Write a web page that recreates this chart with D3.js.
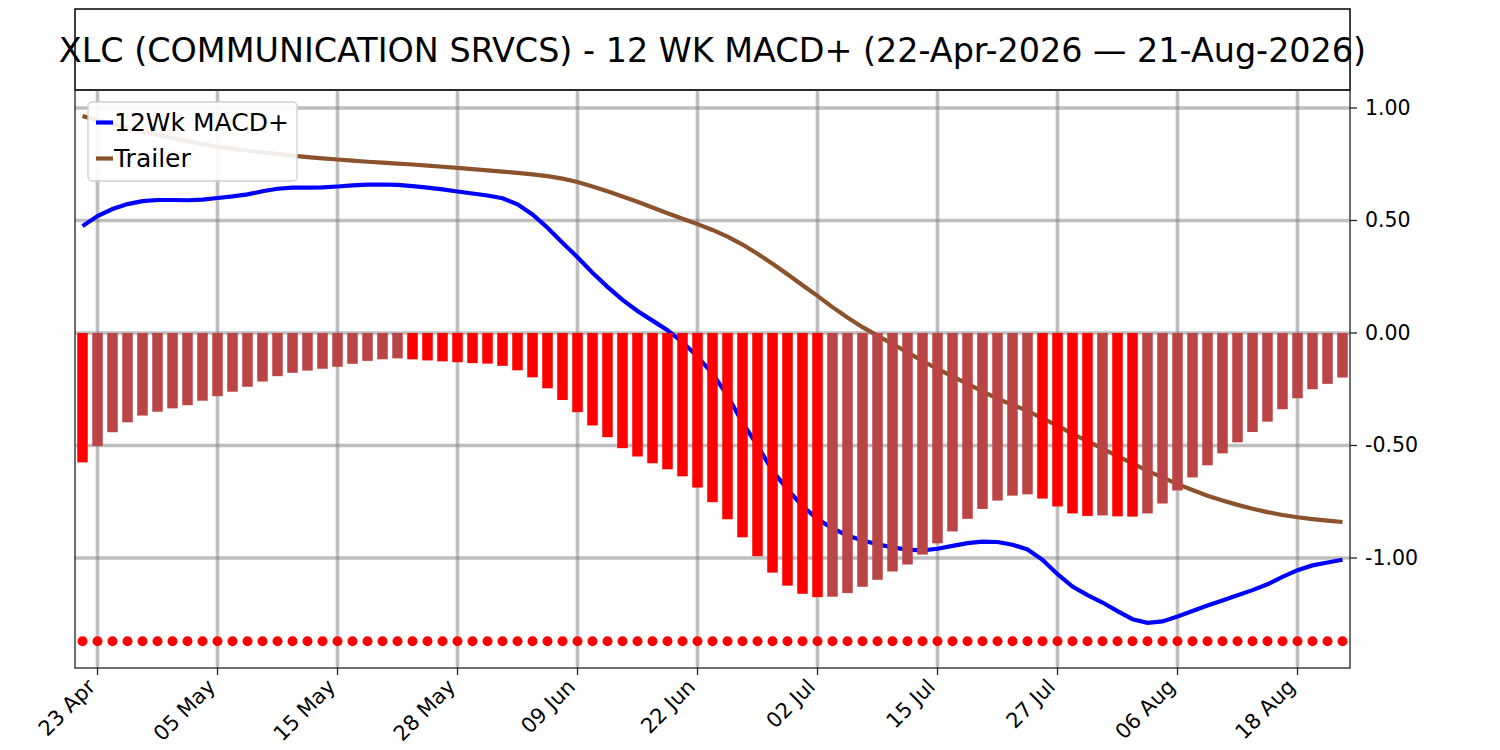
<!DOCTYPE html>
<html lang="en">
<head>
    <meta charset="UTF-8">
    <title>XLC 12 WK MACD+</title>
    <script src="https://d3js.org/d3.v7.min.js"></script>
    <style>
        body { margin: 0; background: #fff; }
        svg { font-family: "DejaVu Sans", sans-serif; }
    </style>
</head>
<body>
    <script>
        // Data (one value per trading day, 22-Apr-2026 .. 21-Aug-2026)
        const macd = [
            0.475, 0.520, 0.551, 0.573, 0.586, 0.591, 0.591, 0.590, 0.593, 0.600,
            0.607, 0.616, 0.630, 0.641, 0.646, 0.646, 0.647, 0.651, 0.656, 0.659,
            0.660, 0.658, 0.653, 0.646, 0.638, 0.629, 0.620, 0.611, 0.599, 0.572,
            0.527, 0.468, 0.401, 0.337, 0.268, 0.205, 0.147, 0.098, 0.055, 0.012,
            -0.040, -0.105, -0.180, -0.278, -0.399, -0.500, -0.613, -0.695, -0.769, -0.827,
            -0.868, -0.900, -0.922, -0.939, -0.953, -0.963, -0.966, -0.959, -0.946, -0.934,
            -0.927, -0.929, -0.941, -0.962, -1.008, -1.072, -1.127, -1.165, -1.198, -1.236,
            -1.272, -1.288, -1.282, -1.260, -1.236, -1.211, -1.189, -1.166, -1.143, -1.117,
            -1.084, -1.054, -1.033, -1.020, -1.008
        ];
        const trailer = [
            0.964, 0.945, 0.928, 0.912, 0.896, 0.881, 0.866, 0.852, 0.840, 0.828,
            0.819, 0.810, 0.803, 0.796, 0.788, 0.782, 0.776, 0.771, 0.766, 0.761,
            0.757, 0.753, 0.749, 0.744, 0.739, 0.734, 0.728, 0.723, 0.717, 0.712,
            0.705, 0.697, 0.686, 0.671, 0.651, 0.630, 0.607, 0.583, 0.558, 0.532,
            0.508, 0.484, 0.458, 0.428, 0.393, 0.352, 0.308, 0.261, 0.212, 0.165,
            0.115, 0.069, 0.026, -0.012, -0.049, -0.086, -0.124, -0.160, -0.193, -0.226,
            -0.259, -0.292, -0.320, -0.346, -0.379, -0.412, -0.448, -0.481, -0.514, -0.547,
            -0.580, -0.613, -0.642, -0.672, -0.698, -0.723, -0.745, -0.764, -0.781, -0.796,
            -0.809, -0.819, -0.827, -0.834, -0.840
        ];
        const hist = [
            -0.575, -0.502, -0.441, -0.397, -0.367, -0.350, -0.335, -0.321, -0.301, -0.281,
            -0.261, -0.239, -0.216, -0.192, -0.177, -0.167, -0.159, -0.150, -0.137, -0.124,
            -0.117, -0.113, -0.117, -0.122, -0.126, -0.130, -0.134, -0.136, -0.146, -0.166,
            -0.197, -0.246, -0.298, -0.352, -0.411, -0.463, -0.512, -0.549, -0.579, -0.606,
            -0.637, -0.687, -0.752, -0.828, -0.908, -0.992, -1.065, -1.123, -1.159, -1.174,
            -1.172, -1.156, -1.128, -1.097, -1.060, -1.029, -0.985, -0.935, -0.882, -0.826,
            -0.782, -0.745, -0.723, -0.717, -0.736, -0.771, -0.802, -0.813, -0.811, -0.815,
            -0.816, -0.802, -0.758, -0.700, -0.642, -0.588, -0.535, -0.486, -0.440, -0.394,
            -0.339, -0.290, -0.250, -0.226, -0.198
        ];
        const dotLevel = -1.37;
        const tickIdx = [1, 9, 17, 25, 33, 41, 49, 57, 65, 73, 81];
        const tickLabels = ["23 Apr", "05 May", "15 May", "28 May", "09 Jun", "22 Jun",
                            "02 Jul", "15 Jul", "27 Jul", "06 Aug", "18 Aug"];
        const yTicks = [1.0, 0.5, 0.0, -0.5, -1.0];
        const title = "XLC (COMMUNICATION SRVCS) - 12 WK MACD+ (22-Apr-2026 \u2014 21-Aug-2026)";

        // Layout
        const W = 1500, H = 750;
        const m = { left: 75, right: 1350, top: 90, bottom: 668 };
        const idx = d3.range(macd.length);

        const svg = d3.select("body")
            .append("svg")
            .attr("width", W)
            .attr("height", H);

        const x = d3.scaleLinear().domain([-0.5, macd.length - 0.5]).range([m.left, m.right]);
        const y = d3.scaleLinear().domain([-1.489, 1.08]).range([m.bottom, m.top]);

        // Title box
        svg.append("rect")
            .attr("x", m.left).attr("y", 9)
            .attr("width", m.right - m.left).attr("height", m.top - 9)
            .attr("fill", "#fff").attr("stroke", "#000").attr("stroke-width", 1.5);
        svg.append("text")
            .attr("x", (m.left + m.right) / 2).attr("y", 62)
            .attr("text-anchor", "middle")
            .attr("font-size", 33.4)
            .text(title);

        const plot = svg.append("g");
        plot.append("clipPath").attr("id", "clip")
            .append("rect")
            .attr("x", m.left).attr("y", m.top)
            .attr("width", m.right - m.left).attr("height", m.bottom - m.top);

        // Grid
        const grid = plot.append("g").attr("stroke", "#808080").attr("stroke-opacity", 0.5).attr("stroke-width", 3.6);
        grid.selectAll("line.h").data(yTicks).enter().append("line")
            .attr("class", "h")
            .attr("x1", m.left).attr("x2", m.right)
            .attr("y1", d => y(d)).attr("y2", d => y(d));
        grid.selectAll("line.v").data(tickIdx).enter().append("line")
            .attr("class", "v")
            .attr("x1", d => x(d)).attr("x2", d => x(d))
            .attr("y1", m.top).attr("y2", m.bottom);

        // Lines (drawn under the bars)
        const line = series => d3.line().x(i => x(i)).y(i => y(series[i]))(idx);
        const marks = plot.append("g").attr("clip-path", "url(#clip)");
        marks.append("path").attr("d", line(trailer))
            .attr("fill", "none").attr("stroke", "#8b522b").attr("stroke-width", 4.2);
        marks.append("path").attr("d", line(macd))
            .attr("fill", "none").attr("stroke", "#0000ff").attr("stroke-width", 4.2);

        // Histogram: bright red while it deepens, brown while it recovers
        const bw = (x(1) - x(0)) * 0.7;
        marks.selectAll("rect.bar").data(idx).enter().append("rect")
            .attr("class", "bar")
            .attr("x", i => x(i) - bw / 2)
            .attr("width", bw)
            .attr("y", i => Math.min(y(0), y(hist[i])))
            .attr("height", i => Math.abs(y(hist[i]) - y(0)))
            .attr("fill", i => (i === 0 || hist[i] < hist[i - 1]) ? "#ff0000" : "#bb4444");

        // Signal dots
        marks.selectAll("circle").data(idx).enter().append("circle")
            .attr("cx", i => x(i)).attr("cy", y(dotLevel)).attr("r", 5)
            .attr("fill", "#ff0000");

        // Frame
        plot.append("rect")
            .attr("x", m.left).attr("y", m.top)
            .attr("width", m.right - m.left).attr("height", m.bottom - m.top)
            .attr("fill", "none").attr("stroke", "#222").attr("stroke-width", 1.3);

        // Right axis
        const yAxis = svg.append("g");
        yAxis.selectAll("line").data(yTicks).enter().append("line")
            .attr("x1", m.right).attr("x2", m.right + 7)
            .attr("y1", d => y(d)).attr("y2", d => y(d))
            .attr("stroke", "#222").attr("stroke-width", 1.3);
        yAxis.selectAll("text").data(yTicks).enter().append("text")
            .attr("x", m.right + 15).attr("y", d => y(d))
            .attr("dominant-baseline", "central")
            .attr("font-size", 20.5)
            .text(d => d3.format(".2f")(d).replace("\u2212", "-"));

        // Bottom axis
        const xAxis = svg.append("g");
        xAxis.selectAll("line").data(tickIdx).enter().append("line")
            .attr("x1", d => x(d)).attr("x2", d => x(d))
            .attr("y1", m.bottom).attr("y2", m.bottom + 7)
            .attr("stroke", "#222").attr("stroke-width", 1.3);
        xAxis.selectAll("text").data(tickIdx).enter().append("text")
            .attr("transform", d => `translate(${x(d) - 1},${m.bottom + 20}) rotate(-45)`)
            .attr("text-anchor", "end")
            .attr("font-size", 21)
            .text((d, k) => tickLabels[k]);

        // Legend
        const lg = svg.append("g");
        lg.append("rect")
            .attr("x", 88).attr("y", 102).attr("width", 209).attr("height", 79)
            .attr("rx", 4)
            .attr("fill", "#fff").attr("fill-opacity", 0.9)
            .attr("stroke", "#d0d0d0").attr("stroke-width", 1.3);
        const entries = [["12Wk MACD+", "#0000ff"], ["Trailer", "#8b522b"]];
        entries.forEach(([name, col], k) => {
            const cy = 122.5 + k * 36;
            lg.append("line")
                .attr("x1", 96).attr("x2", 113)
                .attr("y1", cy).attr("y2", cy)
                .attr("stroke", col).attr("stroke-width", 4.2);
            lg.append("text")
                .attr("x", 114).attr("y", cy)
                .attr("dominant-baseline", "central")
                .attr("font-size", 25)
                .text(name);
        });
    </script>
</body>
</html>
